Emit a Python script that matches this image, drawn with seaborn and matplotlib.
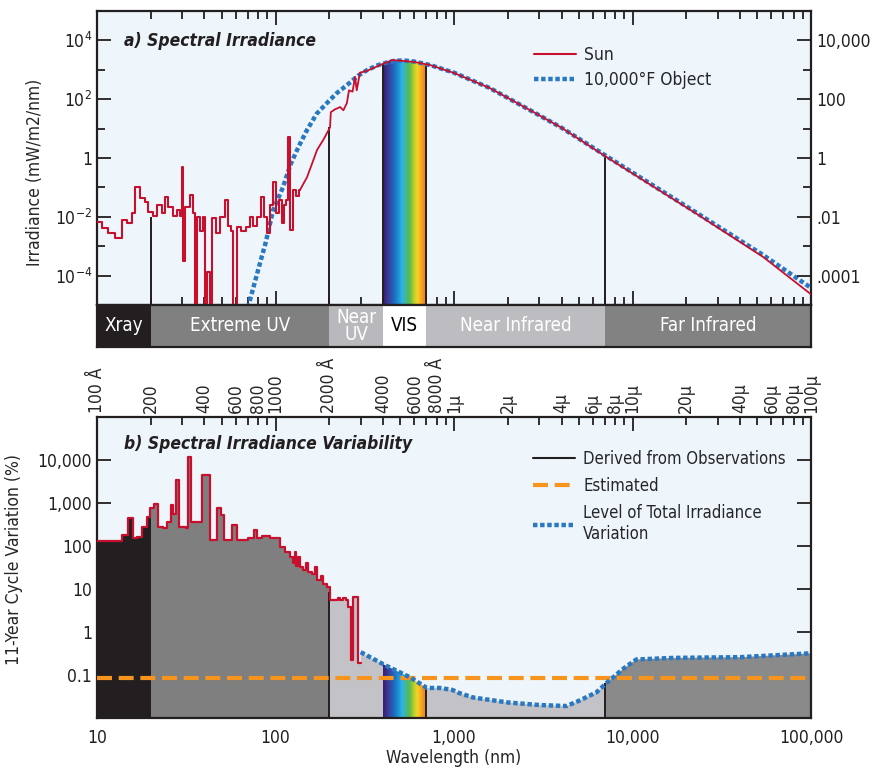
import numpy as np
import matplotlib
matplotlib.use("Agg")
import matplotlib.pyplot as plt
import seaborn as sns
from matplotlib import font_manager as fm
from matplotlib.colors import LinearSegmentedColormap
from matplotlib.ticker import FixedLocator, LogLocator, NullFormatter, NullLocator
from matplotlib.lines import Line2D

sns.set_style("ticks")
# prefer a condensed sans if one is installed, else Liberation Sans (narrower than DejaVu)
_cond = None
for fam in ["Liberation Sans Narrow", "DejaVu Sans", "Open Sans", "Noto Sans"]:
    try:
        p = fm.findfont(fm.FontProperties(family=fam, stretch="condensed"), fallback_to_default=False)
        if "ondensed" in p or "Narrow" in p:
            _cond = fam
            break
    except Exception:
        pass
if _cond:
    plt.rcParams["font.family"] = [_cond, "DejaVu Sans"]
    plt.rcParams["font.stretch"] = "condensed"
else:
    plt.rcParams["font.family"] = ["Liberation Sans", "DejaVu Sans"]

# ---------------- data ----------------
# Panel a: solar spectral irradiance, mW/m2/nm
sun_euv_nm = [10.0, 10.7, 11.5, 12.6, 13.8, 14.7, 15.7, 16.3, 17.4, 18.6, 19.3, 20.6, 21.7,
              23.1, 24.0, 25.0, 26.6, 28.1, 29.3, 29.9, 30.3, 31.1, 33.2, 34.5, 35.4, 36.3,
              37.8, 39.3, 40.3, 41.3, 43.0, 44.2, 46.5, 48.9, 52.2, 54.2, 56.4, 57.9, 60.9,
              64.0, 68.4, 72.1, 75.1, 78.8, 82.8, 86.3, 89.6, 93.4, 97.1, 100.7, 104.7, 108.8,
              111.8, 114.4, 117.6, 121.0, 126.0, 130.5, 134.6, 137.0]
sun_euv = [6.6e-3, 4.2e-3, 2.8e-3, 1.9e-3, 7.8e-3, 6.2e-3, 1.3e-2, 0.10, 4.4e-2, 3.2e-2, 1.4e-2,
           1.1e-2, 2.5e-2, 1.3e-2, 4.7e-2, 2.1e-2, 1.1e-2, 1.7e-2, 1.1e-2, 0.49, 3.2e-4, 2.1e-2,
           5.5e-2, 1.3e-2, 1e-6, 1e-2, 3.2e-3, 1e-2, 1e-6, 1.3e-4, 1e-6, 9.1e-3, 2.8e-3, 1e-2,
           3.7e-2, 5e-3, 3.2e-3, 1e-6, 4.5e-3, 3.2e-3, 4.5e-3, 1e-2, 5e-3, 1e-2, 4.7e-2, 1e-2,
           2.8e-3, 2.5e-2, 0.15, 1.3e-2, 3.7e-2, 6.3e-3, 2.5e-2, 3.7e-2, 5.1, 3.5e-3, 7.9e-2,
           5e-2, 7.9e-2, 8.1e-2]
sun_nm = [137, 150, 160, 171, 185, 202, 204, 215, 230, 240, 251, 258, 270, 279, 285, 297, 320,
          354, 385, 411, 450, 500, 600, 735, 1000, 1585, 2670, 4000, 7200, 22900, 53900, 100000]
sun_irr = [0.081, 0.22, 0.63, 1.9, 4.1, 11, 36, 45, 54, 42, 74, 200, 180, 575, 200, 800, 890,
           1150, 1450, 1700, 2140, 2050, 1850, 1450, 780, 240, 42, 10.7, 1.05, 1.25e-2, 4.3e-4,
           2.3e-5]
bb_nm = [70, 72, 80, 88, 97, 110, 121, 135, 150, 170, 194, 220, 251, 290, 326, 370, 411, 460,
         520, 600, 735, 1000, 1585, 2670, 4000, 7200, 10000, 22900, 53900, 100000]
bb_irr = [8e-6, 1.5e-5, 1.6e-4, 1.3e-3, 1.7e-2, 0.10, 0.58, 2.5, 8.9, 32, 74, 160, 300, 630,
          980, 1400, 1700, 2000, 2090, 1900, 1450, 795, 240, 42, 10.7, 1.12, 0.32, 1.35e-2,
          5.0e-4, 3.8e-5]
# heights of the dark boundary lines in panel a
divider_nm_a = [20, 200, 400, 700, 7000]
divider_top_a = [1.0e-2, 11, 1700, 1500, 1.1]

# Spectral bands
band_names = ["Xray", "Extreme UV", "Near\nUV", "VIS", "Near Infrared", "Far Infrared"]
band_lo = [10, 20, 200, 400, 700, 7000]
band_hi = [20, 200, 400, 700, 7000, 100000]
band_colors = ["#231f20", "#808080", "#b9b9bd", "#ffffff", "#bdbdc1", "#828282"]
band_text = ["white", "white", "white", "black", "white", "white"]
fill_colors_b = ["#231f20", "#7f7f7f", "#c3c3c7", None, "#c3c3c7", "#8a8a8a"]

# Panel b: 11-year cycle variation (%)
var_nm = [10.0, 13.8, 14.9, 15.9, 16.8, 17.9, 19.1, 19.8, 20.9, 22.0, 23.4, 24.7, 26.0, 26.6,
          27.7, 28.8, 31.5, 32.4, 33.6, 38.7, 43.0, 47.1, 49.5, 51.5, 57.0, 60.9, 70.2, 75.5,
          78.8, 84.0, 93.4, 99.6, 106, 113, 121, 126, 128, 131, 134, 137, 143, 148, 152, 160,
          166, 171, 180, 185, 195, 202, 223, 230, 240, 248, 255, 265, 270, 290, 300]
var_pct = [130, 180, 450, 155, 160, 275, 470, 760, 950, 275, 260, 360, 890, 560, 3400, 275,
           260, 11700, 360, 4500, 140, 760, 520, 140, 310, 140, 150, 235, 150, 170, 155, 150,
           95, 71, 55, 40, 71, 35, 56, 32, 28, 40, 25, 22, 32, 16, 20, 13, 11, 5.5, 6.2, 5.5,
           6.2, 5.5, 3.9, 0.22, 6.6, 0.19, 0.19]
tiv_nm = [300, 410, 565, 705, 835, 980, 1070, 1280, 2000, 3030, 4270, 5100, 6300, 7260, 8870,
          10500, 16900, 40000, 100000]
tiv_pct = [0.34, 0.17, 0.089, 0.050, 0.050, 0.045, 0.038, 0.030, 0.023, 0.020, 0.019, 0.026,
           0.040, 0.069, 0.14, 0.23, 0.25, 0.26, 0.32]
estimated_level = 0.085
divider_nm_b = [200, 700, 7000]
divider_top_b = [8.5, 0.05, 0.065]

top_tick_nm = [10, 20, 40, 60, 80, 100, 200, 400, 600, 800, 1000, 2000, 4000, 6000, 8000,
               10000, 20000, 40000, 60000, 80000, 100000]
top_tick_labels = ["100 Å", "200", "400", "600", "800", "1000", "2000 Å", "4000", "6000",
                   "8000 Å", "1µ", "2µ", "4µ", "6µ", "8µ", "10µ", "20µ", "40µ", "60µ", "80µ",
                   "100µ"]
ya_ticks = [1e-4, 1e-2, 1, 1e2, 1e4]
ya_left = ["10$^{-4}$", "10$^{-2}$", "1", "10$^{2}$", "10$^{4}$"]
ya_right = [".0001", ".01", "1", "100", "10,000"]
yb_ticks = [0.1, 1, 10, 100, 1000, 10000]
yb_labels = ["0.1", "1", "10", "100", "1,000", "10,000"]
xb_ticks = [10, 100, 1000, 10000, 100000]
xb_labels = ["10", "100", "1,000", "10,000", "100,000"]

# ---------------- style ----------------
RED = "#c8102e"
BLUE = "#2b78c2"
ORANGE = "#f7941d"
DARK = "#231f20"
BG = "#eef6fc"
FS = 12.5
rainbow = LinearSegmentedColormap.from_list(
    "spec", ["#3a1f6e", "#3b3f9e", "#2166b8", "#1c8ed6", "#2fb3e3", "#43b88a", "#62bb47",
             "#b5cf32", "#f4d423", "#f6b124", "#f28c1e", "#ee7a1d"])
grad = np.linspace(0, 1, 256).reshape(1, -1)

fig = plt.figure(figsize=(8.74, 7.69), dpi=100)
axA = fig.add_axes([0.111, 0.6034, 0.817, 0.3823])
axB = fig.add_axes([0.111, 0.5488, 0.817, 0.0546])
axC = fig.add_axes([0.111, 0.0663, 0.817, 0.3914])

for ax in (axA, axB, axC):
    ax.set_xscale("log")
    for s in ax.spines.values():
        s.set_color(DARK)
        s.set_linewidth(1.6)

# ---------------- panel a ----------------
axA.set_yscale("log")
axA.set_facecolor(BG)
clipA = axA.fill_between(sun_nm, sun_irr, 1e-7, facecolor="none", edgecolor="none")
imA = axA.imshow(grad, extent=[400, 700, 1e-5, 1e4], aspect="auto", cmap=rainbow,
                 origin="lower", zorder=1, interpolation="bilinear")
imA.set_clip_path(clipA.get_paths()[0], axA.transData)
axA.vlines(divider_nm_a, 1e-5, divider_top_a, colors=DARK, lw=1.4, zorder=2)
sns.lineplot(x=bb_nm, y=bb_irr, ax=axA, color=BLUE, lw=3.2, linestyle=(0, (1, 0.6)),
             estimator=None, sort=False, zorder=3)
sns.lineplot(x=sun_euv_nm, y=sun_euv, ax=axA, color=RED, lw=1.5, drawstyle="steps-post",
             estimator=None, sort=False, zorder=4)
sns.lineplot(x=sun_nm, y=sun_irr, ax=axA, color=RED, lw=1.3, estimator=None, sort=False,
             zorder=4)
axA.set_xlim(10, 1e5)
axA.set_ylim(1e-5, 1e5)
axA.set_yticks(ya_ticks, ya_left)
axA.yaxis.set_minor_locator(FixedLocator([1e-3, 1e-1, 10, 1e3]))
axA.yaxis.set_minor_formatter(NullFormatter())
axA.set_ylabel("Irradiance (mW/m2/nm)", fontsize=FS)
axA.yaxis.set_label_coords(-0.074, 0.45)
axA.text(0.038, 0.898, "a) Spectral Irradiance", transform=axA.transAxes, fontsize=FS,
         fontweight="bold", style="italic", va="center", color=DARK)
hA = [Line2D([], [], color=RED, lw=1.5), Line2D([], [], color=BLUE, lw=3.2, linestyle=(0, (1, 0.6)))]
axA.legend(hA, ["Sun", "10,000°F Object"], loc="upper left", bbox_to_anchor=(0.59, 0.935),
           frameon=False, fontsize=FS, handlelength=2.4, labelspacing=0.4, handletextpad=0.5)

axA2 = axA.twinx()
axA2.set_yscale("log")
axA2.set_ylim(1e-5, 1e5)
axA2.set_yticks(ya_ticks, ya_right)
axA2.yaxis.set_minor_locator(FixedLocator([1e-3, 1e-1, 10, 1e3]))
axA2.yaxis.set_minor_formatter(NullFormatter())
for s in axA2.spines.values():
    s.set_visible(False)

# ---------------- band strip ----------------
axB.barh(y=[0.5] * len(band_lo), width=np.array(band_hi) - np.array(band_lo), left=band_lo,
         height=1.0, color=band_colors, edgecolor="none")
for name, lo, hi, tc in zip(band_names, band_lo, band_hi, band_text):
    axB.text(np.sqrt(lo * hi), 0.5, name, ha="center", va="center", color=tc, fontsize=FS + 1,
             linespacing=0.85)
axB.set_xlim(10, 1e5)
axB.set_ylim(0, 1)
axB.set_xticks([])
axB.set_yticks([])
axB.xaxis.set_minor_locator(NullLocator())

# ---------------- panel b ----------------
axC.set_yscale("log")
axC.set_facecolor(BG)
var_x = np.repeat(var_nm, 2)[1:]
var_y = np.repeat(var_pct, 2)[:-1]
fill_x = np.concatenate([var_x, tiv_nm])
fill_y = np.concatenate([var_y, tiv_pct])
clipC = axC.fill_between(fill_x, fill_y, 1e-4, facecolor="none", edgecolor="none")
clip_path = clipC.get_paths()[0]
for lo, hi, col in zip(band_lo, band_hi, fill_colors_b):
    if col is None:
        im = axC.imshow(grad, extent=[lo, hi, 1e-3, 10], aspect="auto", cmap=rainbow,
                        origin="lower", zorder=1, interpolation="bilinear")
        im.set_clip_path(clip_path, axC.transData)
    else:
        sp = axC.axvspan(lo, hi, color=col, lw=0, zorder=1)
        sp.set_clip_path(clip_path, axC.transData)
axC.vlines(divider_nm_b, 1e-2, divider_top_b, colors=DARK, lw=1.4, zorder=2)
axC.axhline(estimated_level, color=ORANGE, lw=3.0, linestyle=(0, (3.6, 1.6)), zorder=3)
sns.lineplot(x=tiv_nm, y=tiv_pct, ax=axC, color=BLUE, lw=3.2, linestyle=(0, (1, 0.6)),
             estimator=None, sort=False, zorder=4)
sns.lineplot(x=var_nm, y=var_pct, ax=axC, color=RED, lw=1.6, drawstyle="steps-post",
             estimator=None, sort=False, zorder=4)
axC.set_xlim(10, 1e5)
axC.set_ylim(1e-2, 1e5)
axC.set_yticks(yb_ticks, yb_labels)
axC.yaxis.set_minor_locator(NullLocator())
axC.set_xticks(xb_ticks, xb_labels)
axC.set_ylabel("11-Year Cycle Variation (%)", fontsize=FS)
axC.yaxis.set_label_coords(-0.104, 0.525)
axC.set_xlabel("Wavelength (nm)", fontsize=FS, labelpad=1)
axC.text(0.038, 0.91, "b) Spectral Irradiance Variability", transform=axC.transAxes,
         fontsize=FS, fontweight="bold", style="italic", va="center", color=DARK)
hC = [Line2D([], [], color=DARK, lw=1.5),
      Line2D([], [], color=ORANGE, lw=3.0, linestyle=(0, (3.6, 1.6))),
      Line2D([], [], color=BLUE, lw=3.2, linestyle=(0, (1, 0.6)))]
axC.legend(hC, ["Derived from Observations", "Estimated", "Level of Total Irradiance\nVariation"],
           loc="upper left", bbox_to_anchor=(0.59, 0.94), frameon=False, fontsize=12,
           handlelength=2.5, labelspacing=0.55, handletextpad=0.5)

axT = axC.twiny()
axT.set_xscale("log")
axT.set_xlim(10, 1e5)
axT.set_xticks(top_tick_nm, top_tick_labels)
axT.xaxis.set_minor_locator(NullLocator())
axT.tick_params(axis="x", length=0, pad=3, labelrotation=90, labelsize=FS)
for s in axT.spines.values():
    s.set_visible(False)

# ticks
for ax in (axA, axC):
    ax.xaxis.set_major_locator(FixedLocator(xb_ticks))
    ax.xaxis.set_minor_locator(LogLocator(base=10, subs=np.arange(2, 10)))
    ax.xaxis.set_minor_formatter(NullFormatter())
    ax.tick_params(axis="both", which="both", direction="in", top=True, color=DARK,
                   width=1.3, labelsize=FS, labelcolor=DARK)
    ax.tick_params(which="major", length=10)
    ax.tick_params(which="minor", length=5.5)
axC.set_xticks(xb_ticks, xb_labels)
axC.tick_params(axis="y", right=True)
axC.tick_params(axis="x", pad=8)
axA.tick_params(axis="x", labelbottom=False)
axA.tick_params(axis="y", right=False)
axA2.tick_params(axis="y", which="both", direction="in", color=DARK, width=1.3,
                 labelsize=FS, labelcolor=DARK)
axA2.tick_params(which="major", length=10)
axA2.tick_params(which="minor", length=5.5)

fig.savefig("out.png", dpi=100, facecolor="white")
